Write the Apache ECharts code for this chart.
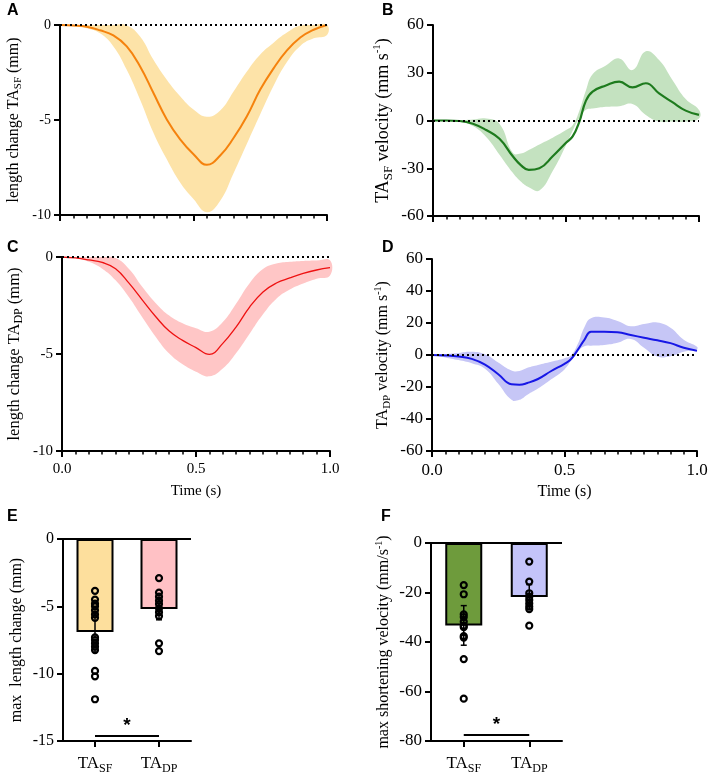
<!DOCTYPE html>
<html><head><meta charset="utf-8">
<script src="https://cdn.jsdelivr.net/npm/echarts@6/dist/echarts.min.js"></script>
<style>html,body{margin:0;padding:0;background:#fff}#c{width:708px;height:776px}</style>
</head><body><div id="c"></div>
<script>
// ---------- data ----------
const timeLen = [0,0.05,0.1,0.15,0.2,0.25,0.3,0.35,0.4,0.45,0.5,0.55,0.6,0.65,0.7,0.75,0.8,0.85,0.9,0.95,1.0];
const sfLenMean  = [0,-0.03,-0.09,-0.28,-0.55,-1.13,-2.18,-3.58,-4.97,-6.02,-6.8,-7.36,-6.87,-5.95,-4.8,-3.4,-2.28,-1.34,-0.66,-0.25,0];
const sfLenUpper = [0,0,0,0,0,-0.02,-0.6,-1.83,-2.88,-3.75,-4.45,-4.83,-4.5,-3.5,-2.45,-1.55,-0.93,-0.4,-0.03,0,0];
const sfLenLower = [0,-0.06,-0.17,-0.44,-1.13,-2.36,-3.93,-5.67,-7.07,-8.29,-9.16,-9.85,-9.25,-7.8,-6.25,-4.7,-3.2,-1.95,-1.1,-0.7,-0.52];
const dpLenMean  = [0,-0.05,-0.15,-0.28,-0.6,-1.35,-2.22,-3.08,-3.82,-4.3,-4.67,-5.02,-4.45,-3.6,-2.58,-1.8,-1.34,-1.08,-0.85,-0.67,-0.55];
const dpLenUpper = [0,0,0,0,-0.05,-0.62,-1.55,-2.38,-3.02,-3.42,-3.67,-3.85,-3.35,-2.4,-1.35,-0.62,-0.34,-0.25,-0.2,-0.18,-0.17];
const dpLenLower = [0,-0.05,-0.25,-0.6,-1.2,-2.08,-3.12,-4.12,-4.98,-5.53,-5.91,-6.15,-5.75,-4.95,-3.95,-2.95,-2.15,-1.68,-1.37,-1.12,-0.95];

const timeVel = [0,0.05,0.1,0.15,0.2,0.25,0.3,0.33,0.36,0.4,0.45,0.5,0.525,0.55,0.575,0.6,0.65,0.7,0.75,0.8,0.85,0.9,0.95,1.0];
const sfVelMean  = [0,0,-0.3,-2.0,-6,-11.5,-22.5,-28,-31,-30,-22.5,-14,-10,-0.8,12.5,18.2,22,24.4,20.8,23.4,17,11.5,6.2,3.5];
const sfVelUpper = [0,0,0.2,0.7,1.3,-2.0,-20.3,-20.7,-18.5,-15,-10.8,-6,-3,6,19,29,34.5,39,31.7,43.5,38,25.5,13.5,6.6];
const sfVelLower = [0,0,-0.8,-3.5,-10.4,-21.5,-32.9,-38.4,-42,-44,-31.8,-15.5,-6.5,1.5,6.8,7.5,8.6,9,10.4,3.5,-0.7,-0.7,-0.7,1.3];
const dpVelMean  = [0,-0.3,-1.0,-2.4,-6,-12,-18.3,-18.6,-17.5,-15,-10,-5.5,-2.5,3.2,9.5,14.5,14.6,14.2,12.5,10.8,9.2,7.4,4.5,2.6];
const dpVelUpper = [0,0.6,1.3,2.0,0.5,-4.7,-9.7,-10,-8,-6.2,-4.2,-2,-0.2,6.8,17.4,23,23.5,21.3,18,19.3,20.3,17,9.5,5.2];
const dpVelLower = [0,-1.5,-3.2,-5.2,-8.6,-18,-28,-28,-24.8,-21,-15.2,-9,-3.5,2.2,5.5,5.8,6.2,7.6,10,4.5,-1,-0.8,2,3.7];

const barCategories = ['TA_SF','TA_DP'];
const maxLenMeans = [-6.9,-5.2];
const maxLenErr   = [1.5,0.8];
const maxLenSF = [-3.85,-4.5,-4.8,-5.0,-5.3,-5.6,-5.85,-7.3,-7.5,-7.75,-8.0,-8.25,-9.8,-10.2,-11.9];
const maxLenDP = [-2.9,-3.98,-4.28,-4.58,-4.83,-5.15,-5.44,-5.72,-7.75,-8.32];
const maxVelMeans = [-33.3,-21.8];
const maxVelErr   = [8,5];
const maxVelSF = [-17.0,-20.7,-28.8,-29.9,-31.8,-33.4,-34.0,-37.6,-38.2,-46.9,-62.9];
const maxVelDP = [-7.5,-15.6,-20.3,-21.7,-23.0,-24.4,-25.7,-26.7,-33.4];
const sigLen = -14.6;
const sigVel = -77.3;

const lenTicks = {min:-10, max:0, interval:5};
const velTicksB = {min:-60, max:60, interval:30};
const velTicksD = {min:-60, max:60, interval:20};
const barLenTicks = {min:-15, max:0, interval:5};
const barVelTicks = {min:-80, max:0, interval:20};

// ---------- styling helpers ----------
const SERIF = '"Liberation Serif","Times New Roman",serif';
const SANS = '"Liberation Sans",Arial,sans-serif';
const SMOOTH = 0.45;
function richName(fs) {
  return {
    n: {fontFamily: SERIF, fontSize: fs, color: '#000', lineHeight: Math.round(fs * 1.25)},
    s: {fontFamily: SERIF, fontSize: Math.round(fs * 0.7), color: '#000', verticalAlign: 'bottom', lineHeight: Math.round(fs * 0.7)},
    p: {fontFamily: SERIF, fontSize: Math.round(fs * 0.63), color: '#000', verticalAlign: 'top', lineHeight: Math.round(fs * 0.63)}
  };
}

function timeAxis(gi, showLabels, fs) {
  return {
    type: 'value', gridIndex: gi, min: 0, max: 1, interval: 0.5,
    axisLine: {show: true, onZero: false, lineStyle: {color: '#000', width: 2}},
    axisTick: {show: true, length: 6, lineStyle: {color: '#000', width: 2}},
    minorTick: {show: true, splitNumber: 10, length: 3.5, lineStyle: {color: '#000', width: 1.5}},
    splitLine: {show: false}, minorSplitLine: {show: false},
    axisLabel: {show: showLabels, formatter: v => v.toFixed(1), color: '#000', fontFamily: SERIF, fontSize: fs, margin: 11},
    name: showLabels ? 'Time (s)' : '', nameLocation: 'middle', nameGap: 33,
    nameTextStyle: {fontFamily: SERIF, fontSize: 15, color: '#000'}
  };
}
function valAxis(gi, t, name, gap, fs, nfs) {
  return {
    type: 'value', gridIndex: gi, min: t.min, max: t.max, interval: t.interval,
    axisLine: {show: true, onZero: false, lineStyle: {color: '#000', width: 2}},
    axisTick: {show: true, length: 6, lineStyle: {color: '#000', width: 2}},
    splitLine: {show: false},
    axisLabel: {color: '#000', fontFamily: SERIF, fontSize: fs, margin: 9},
    name: name, nameLocation: 'middle', nameRotate: 90, nameGap: gap,
    nameTextStyle: {fontFamily: SERIF, fontSize: nfs, color: '#000', rich: richName(nfs)}
  };
}
function catAxis(gi) {
  return {
    type: 'category', gridIndex: gi, data: barCategories,
    axisLine: {show: true, onZero: false, lineStyle: {color: '#000', width: 2}},
    axisTick: {show: true, alignWithLabel: true, interval: 0, length: 6, lineStyle: {color: '#000', width: 2}},
    splitLine: {show: false},
    axisLabel: {
      margin: 12, interval: 0, hideOverlap: false,
      formatter: v => { const p = v.split('_'); return '{n|' + p[0] + '}{s|' + p[1] + '}'; },
      rich: {
        n: {fontFamily: SERIF, fontSize: 17, color: '#000', lineHeight: 22},
        s: {fontFamily: SERIF, fontSize: 12, color: '#000', verticalAlign: 'bottom', lineHeight: 12}
      }
    }
  };
}
function bandSeries(gi, t, mean, up, lo, lineColor, bandColor, lw) {
  return [
    {type: 'custom', xAxisIndex: gi, yAxisIndex: gi, silent: true, z: 1,
     data: t.map((x, i) => [x, up[i], lo[i]]),
     encode: {x: 0, y: [1, 2]},
     renderItem: (params, api) => {
       if (params.dataIndex !== 0) return null;
       const n = params.dataInsideLength;
       const top = [], bot = [];
       for (let i = 0; i < n; i++) {
         const x = api.value(0, i);
         top.push(api.coord([x, api.value(1, i)]));
         bot.push(api.coord([x, api.value(2, i)]));
       }
       const pts = top.concat(bot.reverse());
       return {type: 'polygon', shape: {points: pts, smooth: SMOOTH},
               style: {fill: bandColor, stroke: null}};
     }},
    {type: 'line', xAxisIndex: gi, yAxisIndex: gi, data: t.map((x, i) => [x, mean[i]]),
     smooth: SMOOTH, symbol: 'none', silent: true, lineStyle: {color: lineColor, width: lw}, z: 3,
     markLine: {silent: true, symbol: 'none', label: {show: false}, animation: false,
       lineStyle: {type: [2, 3], color: '#000', width: 2}, data: [{yAxis: 0}]}}
  ];
}
function barSeries(gi, means, errs, ptsA, ptsB, colors, sig) {
  return [
    {type: 'bar', xAxisIndex: gi, yAxisIndex: gi, barWidth: 37, silent: true, z: 2,
     data: means.map((v, i) => ({value: v, itemStyle: {color: colors[i], borderColor: '#000', borderWidth: 2}})),
     markLine: {silent: true, symbol: 'none', animation: false,
       lineStyle: {type: 'solid', color: '#000', width: 2},
       label: {show: true, position: 'middle', formatter: '*', color: '#000', fontFamily: SANS, fontSize: 19, fontWeight: 'bold', distance: 0},
       data: [
         {yAxis: 0, label: {show: false}},
         [{coord: [0, sig]}, {coord: [1, sig]}]
       ]}},
    {type: 'custom', xAxisIndex: gi, yAxisIndex: gi, silent: true, z: 3,
     data: means.map((v, i) => [i, v, errs[i]]),
     renderItem: (params, api) => {
       const x = api.value(0), m = api.value(1), e = api.value(2);
       const a = api.coord([x, m + e]), b = api.coord([x, m - e]);
       const st = {stroke: '#000', lineWidth: 1.5};
       return {type: 'group', children: [
         {type: 'line', shape: {x1: a[0], y1: a[1], x2: b[0], y2: b[1]}, style: st},
         {type: 'line', shape: {x1: a[0] - 3, y1: a[1], x2: a[0] + 3, y2: a[1]}, style: st},
         {type: 'line', shape: {x1: b[0] - 3, y1: b[1], x2: b[0] + 3, y2: b[1]}, style: st}
       ]};
     }},
    {type: 'scatter', xAxisIndex: gi, yAxisIndex: gi, silent: true, z: 4,
     symbol: 'circle', symbolSize: 6,
     itemStyle: {color: 'rgba(0,0,0,0)', borderColor: '#000', borderWidth: 2.2, opacity: 1},
     data: ptsA.map(v => [0, v]).concat(ptsB.map(v => [1, v]))}
  ];
}

const grids = [
  {left: 60, top: 25, width: 267, height: 190},
  {left: 433, top: 25, width: 266, height: 191},
  {left: 62, top: 257, width: 268, height: 194},
  {left: 432, top: 259, width: 265, height: 192},
  {left: 63, top: 539, width: 128, height: 202},
  {left: 431, top: 543, width: 131, height: 198}
].map(g => Object.assign({containLabel: false, outerBoundsMode: 'none'}, g));

const letter = (txt, x, y) => ({type: 'text', left: x, top: y,
  style: {text: txt, font: 'bold 16px ' + SANS, fill: '#000'}});

const xAxes = [timeAxis(0, false, 14), timeAxis(1, false, 17), timeAxis(2, true, 15), timeAxis(3, true, 17), catAxis(4), catAxis(5)];
xAxes[3].nameTextStyle.fontSize = 16;

const option = {
  animation: false,
  backgroundColor: '#fff',
  grid: grids,
  xAxis: xAxes,
  yAxis: [
    valAxis(0, lenTicks, '{n|length change TA}{s|SF}{n| (mm)}', 36, 14, 16),
    valAxis(1, velTicksB, '{n|TA}{s|SF}{n| velocity (mm s}{p|-1}{n|)}', 38, 17, 18),
    valAxis(2, lenTicks, '{n|length change TA}{s|DP}{n| (mm)}', 37, 15, 16.5),
    valAxis(3, velTicksD, '{n|TA}{s|DP}{n| velocity (mm s}{p|-1}{n|)}', 39, 17, 16),
    valAxis(4, barLenTicks, '{n|max  length change (mm)}', 36, 16, 16),
    valAxis(5, barVelTicks, '{n|max shortening velocity (mm/s}{p|-1}{n|)}', 37, 17, 16)
  ],
  graphic: [letter('A', 7, 3), letter('B', 382, 3), letter('C', 7, 240), letter('D', 382, 240),
            letter('E', 7, 509), letter('F', 381, 509)],
  series: [].concat(
    bandSeries(0, timeLen, sfLenMean, sfLenUpper, sfLenLower, '#F5820D', '#FDE3A8', 2),
    bandSeries(1, timeVel, sfVelMean, sfVelUpper, sfVelLower, '#1E7B1E', '#C4E2C0', 2.2),
    bandSeries(2, timeLen, dpLenMean, dpLenUpper, dpLenLower, '#EE1111', '#FFC6C6', 1.3),
    bandSeries(3, timeVel, dpVelMean, dpVelUpper, dpVelLower, '#1717E6', '#C6C6F6', 2),
    barSeries(4, maxLenMeans, maxLenErr, maxLenSF, maxLenDP, ['#FDDF9D', '#FFC1C5'], sigLen),
    barSeries(5, maxVelMeans, maxVelErr, maxVelSF, maxVelDP, ['#6E9B3C', '#C4C4FA'], sigVel)
  )
};
const chart = echarts.init(document.getElementById('c'), null, {renderer: 'canvas'});
chart.setOption(option);
</script>
</body></html>
